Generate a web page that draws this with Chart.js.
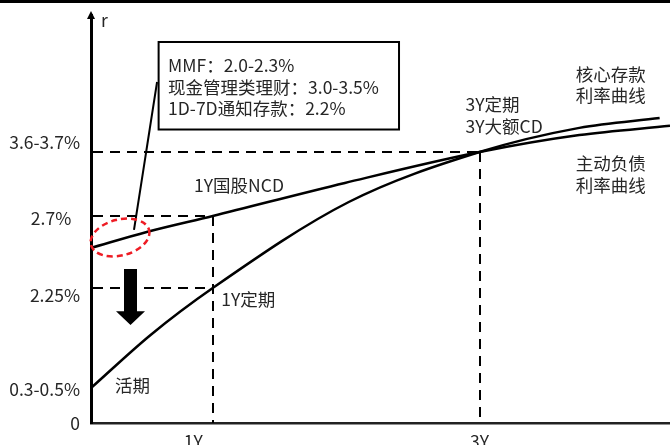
<!DOCTYPE html>
<html lang="zh-CN">
<head>
<meta charset="utf-8">
<title>核心存款与主动负债利率曲线</title>
<script src="https://cdn.jsdelivr.net/npm/chart.js@4.4.1/dist/chart.umd.min.js"></script>
<style>
  html, body { margin: 0; padding: 0; background: #fff; }
  #wrap { width: 670px; height: 445px; position: relative; }
</style>
</head>
<body>
<div id="wrap"><canvas id="curveChart"></canvas></div>
<script>
// 示意图：横轴约 1 单位 = 1 年，纵轴为示意刻度（非严格比例）
const coreTerm = [0, 0.46, 0.94, 1.99, 3.00, 3.77, 4.39];
const coreRate = [1.03, 2.59, 3.97, 6.50, 7.97, 8.68, 8.97];

const activeTerm = [0, 0.43, 0.94, 1.96, 3.00, 3.77, 4.47];
const activeRate = [5.15, 5.62, 6.09, 7.06, 7.97, 8.47, 8.74];

const yTickValues = [0, 1.0, 3.74, 6.03, 8.24];
const yTickLabels = ['0', '0.3-0.5%', '2.25%', '2.7%\u2002', '3.6-3.7%'];
const xTickValues = [0.79, 3.0];
const xTickLabels = ['1Y', '3Y'];

// 关键点：1Y国股NCD、1Y定期、3Y定期/大额CD
const keyTerm = [0.94, 0.94, 3.0];
const keyRate = [6.09, 3.97, 7.97];

const boxLines = ['MMF：2.0-2.3%', '现金管理类理财：3.0-3.5%', '1D-7D通知存款：2.2%'];

const FONT = '17.5px "Noto Sans CJK SC", "Noto Sans", sans-serif';
const TXT = '#262626';

/* ---- 虚线、注释框、箭头、文字 ---- */
const sketch = {
    id: 'sketch',
    beforeDatasetsDraw(chart) {
        const { ctx, scales: { x, y } } = chart;
        ctx.save();
        ctx.strokeStyle = '#000';
        ctx.lineWidth = 2;
        ctx.setLineDash([10, 7]);
        keyTerm.forEach((t, i) => {
            const py = Math.round(y.getPixelForValue(keyRate[i]));
            ctx.beginPath();
            ctx.moveTo(x.left + 2, py);
            ctx.lineTo(Math.round(x.getPixelForValue(t)), py);
            ctx.stroke();
        });
        [...new Set(keyTerm)].forEach(t => {
            const top = Math.max(...keyRate.filter((r, i) => keyTerm[i] === t));
            const px = Math.round(x.getPixelForValue(t));
            ctx.beginPath();
            ctx.moveTo(px, Math.round(y.getPixelForValue(top)));
            ctx.lineTo(px, y.bottom);
            ctx.stroke();
        });
        ctx.restore();
    },
    afterDraw(chart) {
        const { ctx, scales: { x, y } } = chart;
        const X = v => x.getPixelForValue(v);
        const Y = v => y.getPixelForValue(v);
        ctx.save();

        // 顶部黑线
        ctx.fillStyle = '#000';
        ctx.fillRect(0, 0, chart.width, 3);

        // 纵轴箭头
        ctx.beginPath();
        ctx.moveTo(x.left, y.top - 4);
        ctx.lineTo(x.left - 4, y.top + 4);
        ctx.lineTo(x.left + 4, y.top + 4);
        ctx.closePath();
        ctx.fill();

        // 注释框
        const bx0 = X(0.522), bx1 = X(2.378), by0 = Y(11.206), by1 = Y(8.632);
        ctx.lineWidth = 2;
        ctx.strokeStyle = '#000';
        ctx.strokeRect(bx0, by0, bx1 - bx0, by1 - by0);

        // 引线
        ctx.beginPath();
        ctx.moveTo(X(0.51), Y(10.03));
        ctx.lineTo(X(0.332), Y(5.68));
        ctx.stroke();

        // 红色虚线椭圆
        ctx.strokeStyle = '#ee1c24';
        ctx.lineWidth = 2.5;
        ctx.setLineDash([6, 4]);
        ctx.beginPath();
        ctx.ellipse(X(0.224), Y(5.456), 30, 18, -0.25, 0, Math.PI * 2);
        ctx.stroke();
        ctx.setLineDash([]);

        // 向下箭头
        const ax = X(0.305);
        ctx.fillStyle = '#000';
        ctx.beginPath();
        ctx.moveTo(ax - 6.5, Y(4.53));
        ctx.lineTo(ax + 6.5, Y(4.53));
        ctx.lineTo(ax + 6.5, Y(3.29));
        ctx.lineTo(ax + 14.5, Y(3.29));
        ctx.lineTo(ax, Y(2.88));
        ctx.lineTo(ax - 14.5, Y(3.29));
        ctx.lineTo(ax - 6.5, Y(3.29));
        ctx.closePath();
        ctx.fill();

        // 文字
        ctx.font = FONT;
        ctx.fillStyle = TXT;
        ctx.textAlign = 'left';
        ctx.textBaseline = 'middle';
        const put = (s, xv, yv) => ctx.fillText(s, X(xv), Y(yv));
        put('r', 0.077, 11.853);
        put(boxLines[0], 0.595, 10.53);
        put(boxLines[1], 0.595, 9.88);
        put(boxLines[2], 0.595, 9.26);
        put('1Y国股NCD', 0.796, 7.0);
        put('1Y定期', 1.005, 3.647);
        put('活期', 0.186, 1.118);
        put('3Y定期', 2.892, 9.382);
        put('3Y大额CD', 2.892, 8.735);
        put('核心存款', 3.742, 10.265);
        put('利率曲线', 3.742, 9.647);
        put('主动负债', 3.742, 7.647);
        put('利率曲线', 3.742, 7.0);
        ctx.restore();
    }
};

const tickFont = { family: '"Noto Sans CJK SC", "Noto Sans", sans-serif', size: 17.5 };

new Chart(document.getElementById('curveChart'), {
    type: 'line',
    data: {
        datasets: [
            {
                label: '核心存款利率曲线',
                data: coreTerm.map((t, i) => ({ x: t, y: coreRate[i] })),
                borderColor: '#000',
                borderWidth: 2.5,
                pointRadius: 0,
                cubicInterpolationMode: 'monotone',
                fill: false
            },
            {
                label: '主动负债利率曲线',
                data: activeTerm.map((t, i) => ({ x: t, y: activeRate[i] })),
                borderColor: '#000',
                borderWidth: 2.5,
                pointRadius: 0,
                cubicInterpolationMode: 'monotone',
                fill: false
            }
        ]
    },
    options: {
        responsive: true,
        maintainAspectRatio: false,
        animation: false,
        layout: { padding: { top: 15, left: 0, right: 0, bottom: 0 } },
        plugins: {
            legend: { display: false },
            tooltip: { enabled: false }
        },
        scales: {
            x: {
                type: 'linear',
                min: 0,
                max: 4.47,
                grid: { display: false, drawTicks: false },
                border: { display: true, color: '#222', width: 2.5 },
                afterBuildTicks: s => { s.ticks = xTickValues.map(v => ({ value: v })); },
                afterFit: s => { s.height = 22; s.paddingLeft = 0; s.paddingRight = 0; },
                ticks: {
                    padding: 8,
                    autoSkip: false,
                    maxRotation: 0,
                    font: tickFont,
                    color: TXT,
                    callback: (v, i) => xTickLabels[i]
                }
            },
            y: {
                type: 'linear',
                min: 0,
                max: 12,
                grid: { display: false, drawTicks: false },
                border: { display: true, color: '#000', width: 3 },
                afterBuildTicks: s => { s.ticks = yTickValues.map(v => ({ value: v })); },
                afterFit: s => { s.width = 91; s.paddingTop = 0; s.paddingBottom = 0; },
                ticks: {
                    padding: 11,
                    autoSkip: false,
                    font: tickFont,
                    color: TXT,
                    callback: (v, i) => yTickLabels[i]
                }
            }
        }
    },
    plugins: [sketch]
});
</script>
</body>
</html>
